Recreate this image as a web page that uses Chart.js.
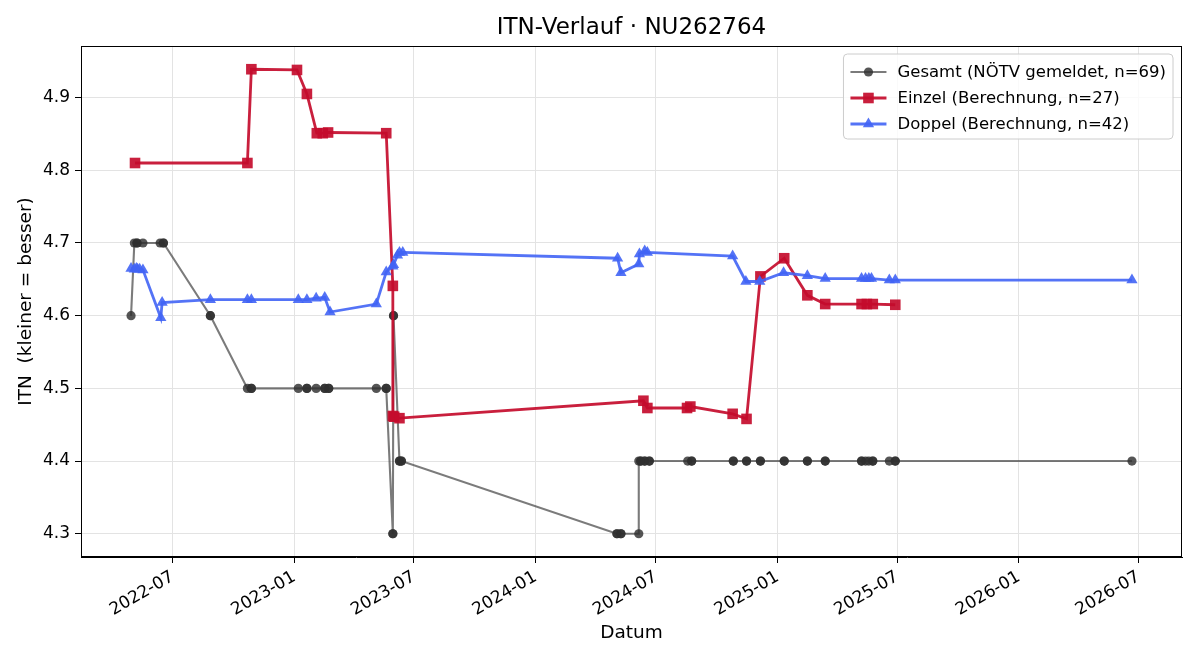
<!DOCTYPE html>
<html>
<head>
<meta charset="utf-8">
<script src="https://cdn.jsdelivr.net/npm/chart.js@4.4.1/dist/chart.umd.min.js"></script>
<style>
  html, body { margin: 0; padding: 0; background: #ffffff; }
  #wrap { width: 1200px; height: 660px; }
</style>
</head>
<body>
<div id="wrap"><canvas id="c" width="1200" height="660"></canvas></div>
<script>
// ---------- DATA ----------
const chartTitle = "ITN-Verlauf · NU262764";
const xAxisTitle = "Datum";
const yAxisTitle = "ITN  (kleiner = besser)";

const gesamtLabel = "Gesamt (NÖTV gemeldet, n=69)";
const gesamtDates = [
  "2022-04-29","2022-05-04","2022-05-08","2022-05-08","2022-05-17","2022-06-12","2022-06-17","2022-06-17",
  "2022-08-27","2022-08-27","2022-10-22","2022-10-28","2022-10-28",
  "2023-01-07","2023-01-20","2023-01-20","2023-02-03","2023-02-16","2023-02-16","2023-02-22","2023-02-22",
  "2023-05-05","2023-05-20","2023-05-20","2023-05-30","2023-05-30","2023-05-31","2023-05-31",
  "2023-06-09","2023-06-09","2023-06-12","2023-06-12",
  "2024-05-03","2024-05-03","2024-05-09","2024-05-09","2024-06-05","2024-06-05",
  "2024-06-08","2024-06-08","2024-06-14","2024-06-14","2024-06-21","2024-06-21",
  "2024-08-18","2024-08-24","2024-08-24","2024-10-26","2024-10-26","2024-11-15","2024-11-15",
  "2024-12-06","2024-12-06","2025-01-11","2025-01-11","2025-02-15","2025-02-15","2025-03-14","2025-03-14",
  "2025-05-08","2025-05-08","2025-05-14","2025-05-19","2025-05-25","2025-05-25",
  "2025-06-19","2025-06-28","2025-06-28","2026-06-21"
];
const gesamtValues = [
  4.6,4.7,4.7,4.7,4.7,4.7,4.7,4.7,
  4.6,4.6,4.5,4.5,4.5,
  4.5,4.5,4.5,4.5,4.5,4.5,4.5,4.5,
  4.5,4.5,4.5,4.3,4.3,4.6,4.6,
  4.4,4.4,4.4,4.4,
  4.3,4.3,4.3,4.3,4.3,4.4,
  4.4,4.4,4.4,4.4,4.4,4.4,
  4.4,4.4,4.4,4.4,4.4,4.4,4.4,
  4.4,4.4,4.4,4.4,4.4,4.4,4.4,4.4,
  4.4,4.4,4.4,4.4,4.4,4.4,
  4.4,4.4,4.4,4.4
];

const einzelLabel = "Einzel (Berechnung, n=27)";
const einzelDates = [
  "2022-05-05","2022-10-22","2022-10-28","2023-01-05","2023-01-20","2023-02-04","2023-02-13","2023-02-21",
  "2023-05-20","2023-05-30","2023-05-30","2023-06-01","2023-06-09",
  "2024-06-12","2024-06-18","2024-08-17","2024-08-22","2024-10-25","2024-11-15","2024-12-06",
  "2025-01-11","2025-02-15","2025-03-14","2025-05-08","2025-05-16","2025-05-25","2025-06-28"
];
const einzelValues = [
  4.810,4.810,4.939,4.938,4.905,4.851,4.851,4.852,
  4.851,4.641,4.462,4.461,4.459,
  4.483,4.473,4.473,4.475,4.465,4.458,4.654,
  4.679,4.628,4.616,4.616,4.616,4.616,4.615
];

const doppelLabel = "Doppel (Berechnung, n=42)";
const doppelDates = [
  "2022-04-29","2022-05-04","2022-05-07","2022-05-09","2022-05-12","2022-05-17","2022-06-13","2022-06-15",
  "2022-08-27","2022-10-22","2022-10-28",
  "2023-01-07","2023-01-20","2023-02-03","2023-02-16","2023-02-24",
  "2023-05-05","2023-05-20","2023-05-30","2023-05-31","2023-06-06","2023-06-09","2023-06-14",
  "2024-05-04","2024-05-09","2024-06-05","2024-06-06","2024-06-14","2024-06-18",
  "2024-10-25","2024-11-14","2024-12-05","2025-01-10","2025-02-15","2025-03-14",
  "2025-05-08","2025-05-14","2025-05-19","2025-05-23","2025-06-19","2025-06-28","2026-06-21"
];
const doppelValues = [
  4.665,4.664,4.665,4.664,4.664,4.663,4.597,4.618,
  4.622,4.622,4.622,
  4.622,4.622,4.624,4.625,4.605,
  4.616,4.660,4.668,4.670,4.683,4.687,4.687,
  4.679,4.659,4.671,4.685,4.689,4.687,
  4.682,4.647,4.647,4.659,4.655,4.651,
  4.651,4.651,4.651,4.651,4.649,4.649,4.649
];

const xTickLabels = ["2022-07","2023-01","2023-07","2024-01","2024-07","2025-01","2025-07","2026-01","2026-07"];
const yTickValues = [4.3,4.4,4.5,4.6,4.7,4.8,4.9];

// ---------- HELPERS ----------
function toDay(s) {
  const p = s.split("-").map(Number);
  return Date.UTC(p[0], p[1] - 1, p[2] || 1) / 86400000;
}
function pts(dates, vals) { return dates.map((d, i) => ({ x: toDay(d), y: vals[i] })); }

const gesamtPts = pts(gesamtDates, gesamtValues);
const einzelPts = pts(einzelDates, einzelValues);
const doppelPts = pts(doppelDates, doppelValues);

const allX = [].concat(gesamtPts, einzelPts, doppelPts).map(p => p.x);
const allY = [].concat(gesamtPts, einzelPts, doppelPts).map(p => p.y);
const xMinD = Math.min(...allX), xMaxD = Math.max(...allX);
const yMinD = Math.min(...allY), yMaxD = Math.max(...allY);
const xPad = (xMaxD - xMinD) * 0.05, yPad = (yMaxD - yMinD) * 0.05;

const xTickMap = {};
xTickLabels.forEach(l => { xTickMap[toDay(l + "-01")] = l; });
const xTickVals = xTickLabels.map(l => toDay(l + "-01"));

const FONT = "'DejaVu Sans', 'Liberation Sans', sans-serif";

const GRAY_LINE = "rgba(60,60,60,0.68)";
const GRAY_PT = "rgba(48,48,48,0.82)";
const RED = "rgba(196,12,44,0.92)";
const BLUE = "rgba(65,100,245,0.9)";

const datasets = [
  { label: gesamtLabel, data: gesamtPts, borderColor: GRAY_LINE, backgroundColor: GRAY_PT,
    pointBorderColor: GRAY_PT, pointBackgroundColor: GRAY_PT, borderWidth: 2.1,
    pointStyle: "circle", pointRadius: 4.6, pointBorderWidth: 0, order: 3, _marker: "circle" },
  { label: einzelLabel, data: einzelPts, borderColor: RED, backgroundColor: RED,
    pointBorderColor: RED, pointBackgroundColor: RED, borderWidth: 2.8,
    pointStyle: "rect", pointRadius: 7.5, pointBorderWidth: 0, order: 2, _marker: "rect" },
  { label: doppelLabel, data: doppelPts, borderColor: BLUE, backgroundColor: BLUE,
    pointBorderColor: BLUE, pointBackgroundColor: BLUE, borderWidth: 2.8,
    pointStyle: "triangle", pointRadius: 6.5, pointBorderWidth: 0, order: 1, _marker: "triangle" }
];

function drawMarker(ctx, type, x, y, r, color) {
  ctx.save();
  ctx.fillStyle = color;
  ctx.beginPath();
  if (type === "circle") {
    ctx.arc(x, y, r, 0, Math.PI * 2);
  } else if (type === "rect") {
    const s = r * Math.SQRT1_2;
    ctx.rect(x - s, y - s, 2 * s, 2 * s);
  } else {
    let rad = 0;
    ctx.moveTo(x + Math.sin(rad) * r, y - Math.cos(rad) * r);
    rad += 2 * Math.PI / 3;
    ctx.lineTo(x + Math.sin(rad) * r, y - Math.cos(rad) * r);
    rad += 2 * Math.PI / 3;
    ctx.lineTo(x + Math.sin(rad) * r, y - Math.cos(rad) * r);
    ctx.closePath();
  }
  ctx.fill();
  ctx.restore();
}

const decorPlugin = {
  id: "decor",
  afterDraw(chart) {
    const ctx = chart.ctx;
    const a = chart.chartArea;
    // frame (top/right spines)
    ctx.save();
    ctx.strokeStyle = "#000";
    ctx.lineWidth = 1;
    ctx.strokeRect(Math.round(a.left) + 0.5, Math.round(a.top) + 0.5,
                   Math.round(a.right - a.left) - 1, Math.round(a.bottom - a.top) - 1);
    ctx.restore();

    // title
    ctx.save();
    ctx.fillStyle = "#000";
    ctx.font = "23px " + FONT;
    ctx.textAlign = "center";
    ctx.textBaseline = "middle";
    ctx.fillText(chartTitle, (a.left + a.right) / 2, 28);
    ctx.restore();

    // legend
    ctx.save();
    ctx.font = "16.5px " + FONT;
    const texts = datasets.map(d => d.label);
    const tw = Math.max(...texts.map(t => ctx.measureText(t).width));
    const boxRight = a.right - 9, boxTop = a.top + 8;
    const boxW = 7 + 36 + 11 + tw + 7;
    const boxH = 85;
    const boxLeft = boxRight - boxW;
    const rr = 4;
    ctx.beginPath();
    ctx.moveTo(boxLeft + rr, boxTop);
    ctx.lineTo(boxRight - rr, boxTop);
    ctx.quadraticCurveTo(boxRight, boxTop, boxRight, boxTop + rr);
    ctx.lineTo(boxRight, boxTop + boxH - rr);
    ctx.quadraticCurveTo(boxRight, boxTop + boxH, boxRight - rr, boxTop + boxH);
    ctx.lineTo(boxLeft + rr, boxTop + boxH);
    ctx.quadraticCurveTo(boxLeft, boxTop + boxH, boxLeft, boxTop + boxH - rr);
    ctx.lineTo(boxLeft, boxTop + rr);
    ctx.quadraticCurveTo(boxLeft, boxTop, boxLeft + rr, boxTop);
    ctx.closePath();
    ctx.fillStyle = "rgba(255,255,255,0.8)";
    ctx.fill();
    ctx.strokeStyle = "#cccccc";
    ctx.lineWidth = 1;
    ctx.stroke();
    const rowY = [boxTop + 18, boxTop + 44, boxTop + 70];
    datasets.forEach((d, i) => {
      const y = rowY[i];
      const x0 = boxLeft + 7, x1 = x0 + 36;
      ctx.strokeStyle = d.borderColor;
      ctx.lineWidth = d.borderWidth;
      ctx.beginPath();
      ctx.moveTo(x0, y); ctx.lineTo(x1, y);
      ctx.stroke();
      const mr = d._marker === "circle" ? 4.6 : (d._marker === "rect" ? 7.5 : 6.5);
      drawMarker(ctx, d._marker, (x0 + x1) / 2, y, mr, d.pointBackgroundColor);
      ctx.fillStyle = "#000";
      ctx.textAlign = "left";
      ctx.textBaseline = "middle";
      ctx.fillText(d.label, x1 + 11, y + 1);
    });
    ctx.restore();
  }
};

new Chart(document.getElementById("c"), {
  type: "line",
  data: { datasets: datasets },
  options: {
    responsive: false,
    animation: false,
    devicePixelRatio: 1,
    parsing: true,
    elements: { line: { tension: 0 } },
    layout: { padding: { top: 46, right: 18, left: 0, bottom: 0 } },
    plugins: { legend: { display: false }, title: { display: false }, tooltip: { enabled: false } },
    scales: {
      x: {
        type: "linear",
        min: xMinD - xPad,
        max: xMaxD + xPad,
        afterBuildTicks: s => { s.ticks = xTickVals.map(v => ({ value: v })); },
        afterFit: s => { s.height = 103; },
        ticks: {
          callback: v => xTickMap[v] || "",
          minRotation: 30, maxRotation: 30, autoSkip: false,
          color: "#000", font: { family: FONT, size: 17 }, padding: 4
        },
        grid: { color: "#e3e3e3", lineWidth: 1, tickColor: "#000", tickLength: 6, drawTicks: true },
        border: { display: true, color: "#000", width: 1 },
        title: { display: true, text: xAxisTitle, color: "#000",
                 font: { family: FONT, size: 18.5 }, padding: { top: 0, bottom: 16 } }
      },
      y: {
        type: "linear",
        min: yMinD - yPad,
        max: yMaxD + yPad,
        afterBuildTicks: s => { s.ticks = yTickValues.map(v => ({ value: v })); },
        afterFit: s => { s.width = 81; },
        ticks: {
          callback: v => Number(v).toFixed(1),
          color: "#000", font: { family: FONT, size: 17 }, padding: 5
        },
        grid: { color: "#e3e3e3", lineWidth: 1, tickColor: "#000", tickLength: 6, drawTicks: true },
        border: { display: true, color: "#000", width: 1 },
        title: { display: true, text: yAxisTitle, color: "#000",
                 font: { family: FONT, size: 18.5 }, padding: { top: 15, bottom: 0 } }
      }
    }
  },
  plugins: [decorPlugin]
});
</script>
</body>
</html>
